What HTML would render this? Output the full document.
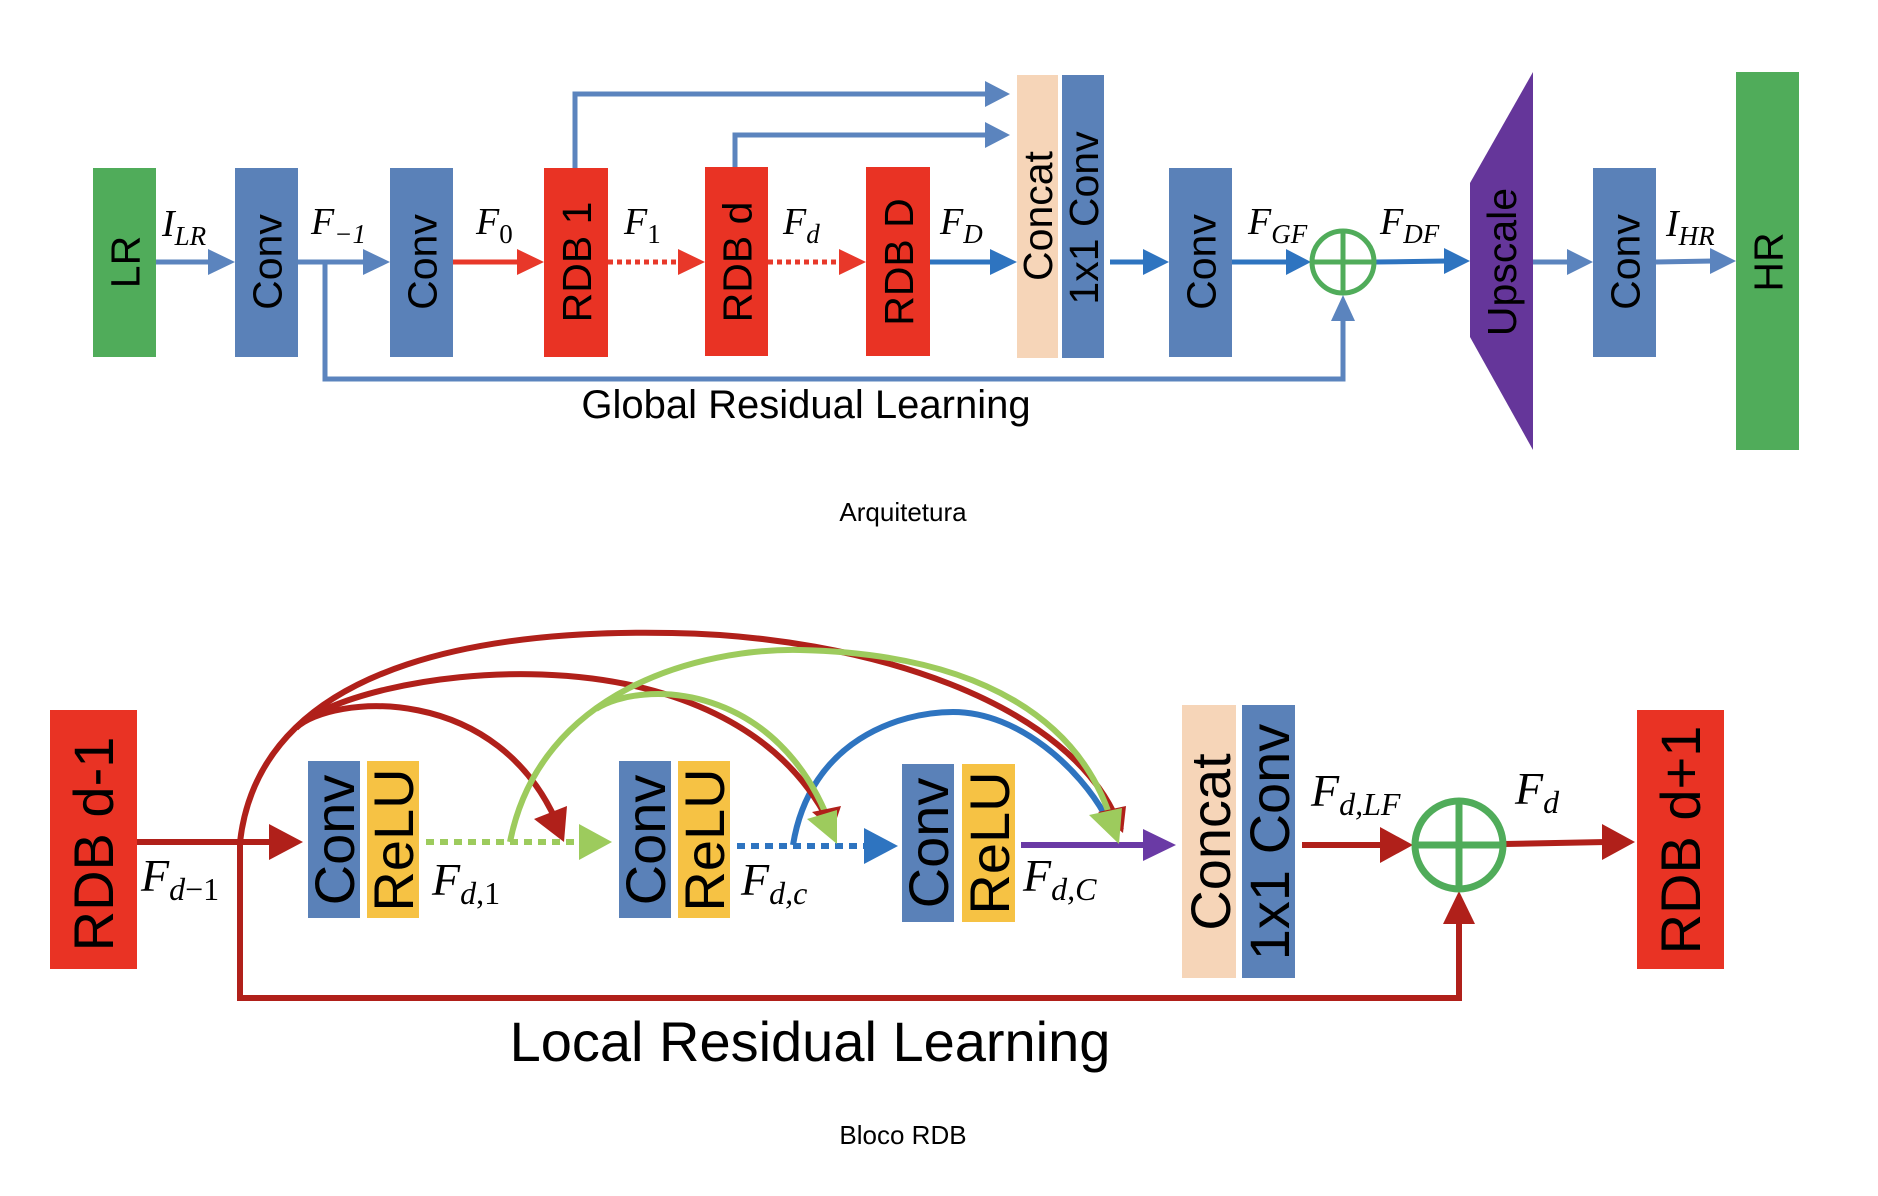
<!DOCTYPE html>
<html><head><meta charset="utf-8"><style>
html,body{margin:0;padding:0;background:#fff;}
svg{display:block;}
.bx{font-family:"Liberation Sans",sans-serif;fill:#000;text-anchor:middle;}
.m{font-family:"Liberation Serif",serif;font-style:italic;fill:#000;}
</style></head><body>
<svg width="1878" height="1196" viewBox="0 0 1878 1196" xmlns="http://www.w3.org/2000/svg">
<!-- ===== TOP ===== -->
<g fill="none" stroke-width="5">
  <line x1="156" y1="262" x2="212" y2="262" stroke="#5B84BE"/>
  <line x1="298" y1="262" x2="367" y2="262" stroke="#5B84BE"/>
  <polyline points="325,262 325,379 1343,379 1343,318" stroke="#5B84BE"/>
  <line x1="453" y1="262" x2="520" y2="262" stroke="#E8382A"/>
  <line x1="608" y1="262" x2="682" y2="262" stroke="#E8382A" stroke-dasharray="5,4"/>
  <line x1="768" y1="262" x2="843" y2="262" stroke="#E8382A" stroke-dasharray="5,4"/>
  <line x1="930" y1="262" x2="994" y2="262" stroke="#2E74C0"/>
  <polyline points="575,168 575,94 988,94" stroke="#5B84BE"/>
  <polyline points="735,168 735,135 988,135" stroke="#5B84BE"/>
  <line x1="1110" y1="262" x2="1146" y2="262" stroke="#2E74C0"/>
  <line x1="1232" y1="262" x2="1290" y2="262" stroke="#2E74C0"/>
  <line x1="1376" y1="262" x2="1447" y2="261" stroke="#2E74C0"/>
  <line x1="1533" y1="262" x2="1570" y2="262" stroke="#5B84BE"/>
  <line x1="1656" y1="262" x2="1713" y2="261" stroke="#5B84BE"/>
</g>
<g>
  <polygon points="235,262 208,249 208,275" fill="#5B84BE"/>
  <polygon points="390,262 363,249 363,275" fill="#5B84BE"/>
  <polygon points="544,262 517,249 517,275" fill="#E8382A"/>
  <polygon points="705,262 678,249 678,275" fill="#E8382A"/>
  <polygon points="866,262 839,249 839,275" fill="#E8382A"/>
  <polygon points="1017,262 990,249 990,275" fill="#2E74C0"/>
  <polygon points="1010,94 985,81 985,107" fill="#5B84BE"/>
  <polygon points="1010,135 985,122 985,148" fill="#5B84BE"/>
  <polygon points="1169,262 1143,249 1143,275" fill="#2E74C0"/>
  <polygon points="1311,262 1286,249 1286,275" fill="#2E74C0"/>
  <polygon points="1470,261 1444,248 1444,274" fill="#2E74C0"/>
  <polygon points="1593,262 1567,249 1567,275" fill="#5B84BE"/>
  <polygon points="1736,261 1710,248 1710,274" fill="#5B84BE"/>
  <polygon points="1343,295 1331,321 1355,321" fill="#5B84BE"/>
</g>
<rect x="93" y="168" width="63" height="189" fill="#50AC5A"/>
<rect x="235" y="168" width="63" height="189" fill="#5A81B8"/>
<rect x="390" y="168" width="63" height="189" fill="#5A81B8"/>
<rect x="544" y="168" width="64" height="189" fill="#E93324"/>
<rect x="705" y="167" width="63" height="189" fill="#E93324"/>
<rect x="866" y="167" width="64" height="189" fill="#E93324"/>
<rect x="1017" y="75" width="41" height="283" fill="#F6D5B8"/>
<rect x="1062" y="75" width="42" height="283" fill="#5A81B8"/>
<rect x="1169" y="168" width="63" height="189" fill="#5A81B8"/>
<polygon points="1470,183 1533,72 1533,450 1470,337" fill="#65369A"/>
<rect x="1593" y="168" width="63" height="189" fill="#5A81B8"/>
<rect x="1736" y="72" width="63" height="378" fill="#50AC5A"/>
<ellipse cx="1343" cy="262" rx="31" ry="31" fill="none" stroke="#50AC5A" stroke-width="5"/>
<line x1="1312" y1="262" x2="1374" y2="262" stroke="#50AC5A" stroke-width="5"/>
<line x1="1343" y1="231" x2="1343" y2="293" stroke="#50AC5A" stroke-width="5"/>
<g class="bx" font-size="41">
  <text transform="translate(139.5,262) rotate(-90)">LR</text>
  <text transform="translate(281.5,262) rotate(-90)">Conv</text>
  <text transform="translate(436.5,262) rotate(-90)">Conv</text>
  <text transform="translate(591,262) rotate(-90)">RDB 1</text>
  <text transform="translate(751.5,262) rotate(-90)">RDB d</text>
  <text transform="translate(913,262) rotate(-90)">RDB D</text>
  <text transform="translate(1052,216) rotate(-90)">Concat</text>
  <text transform="translate(1098,218) rotate(-90)">1x1 Conv</text>
  <text transform="translate(1215.5,262) rotate(-90)">Conv</text>
  <text transform="translate(1516,262) rotate(-90)">Upscale</text>
  <text transform="translate(1639.5,262) rotate(-90)">Conv</text>
  <text transform="translate(1782.5,262) rotate(-90)">HR</text>
</g>
<g class="m" font-size="38">
  <text x="162" y="236">I<tspan font-size="27" dy="9">LR</tspan></text>
  <text x="311" y="234">F<tspan font-size="27" dy="9">−1</tspan></text>
  <text x="476" y="234">F<tspan font-size="27" dy="9" font-style="normal">0</tspan></text>
  <text x="624" y="234">F<tspan font-size="27" dy="9" font-style="normal">1</tspan></text>
  <text x="783" y="234">F<tspan font-size="27" dy="9">d</tspan></text>
  <text x="940" y="234">F<tspan font-size="27" dy="9">D</tspan></text>
  <text x="1248" y="234">F<tspan font-size="27" dy="9">GF</tspan></text>
  <text x="1380" y="234">F<tspan font-size="27" dy="9">DF</tspan></text>
  <text x="1666" y="236">I<tspan font-size="27" dy="9">HR</tspan></text>
</g>
<text x="806" y="418" font-family="Liberation Sans,sans-serif" font-size="40" text-anchor="middle" fill="#000">Global Residual Learning</text>
<text x="903" y="521" font-family="Liberation Sans,sans-serif" font-size="26" text-anchor="middle" fill="#000">Arquitetura</text>

<!-- ===== BOTTOM ===== -->
<g fill="none" stroke-width="6">
  <line x1="137" y1="842" x2="275" y2="842" stroke="#B0201A"/>
  <polyline points="240,842 240,998 1459,998 1459,920" stroke="#B0201A"/>
  <line x1="426" y1="842" x2="582" y2="842" stroke="#9DCB5D" stroke-dasharray="8,6"/>
  <line x1="737" y1="846" x2="868" y2="846" stroke="#2E74C0" stroke-dasharray="8,6"/>
  <line x1="1021" y1="845" x2="1148" y2="845" stroke="#6A3AA5"/>
  <line x1="1302" y1="845" x2="1385" y2="845" stroke="#B0201A"/>
  <line x1="1505" y1="844" x2="1606" y2="842" stroke="#B0201A"/>
  <!-- arcs -->
  <path d="M793 845 C 810 740, 900 712, 953 712 C 1020 712, 1080 770, 1105 815" stroke="#2E74C0"/>
  <path d="M240 842 C 262 650, 520 630, 672 633 C 860 636, 1075 700, 1121 830" stroke="#B0201A"/>
  <path d="M296 728 C 350 672, 720 610, 829 822" stroke="#B0201A"/>
  <path d="M296 728 C 330 695, 500 680, 560 830" stroke="#B0201A"/>
  <path d="M510 842 C 540 690, 700 648, 800 650 C 980 654, 1085 720, 1114 830" stroke="#9DCB5D"/>
  <path d="M596 709 C 640 680, 780 680, 833 832" stroke="#9DCB5D"/>
</g>
<g>
  <polygon points="303,842 269,824 269,860" fill="#B0201A"/>
  <polygon points="612,842 579,824 579,860" fill="#9DCB5D"/>
  <polygon points="898,846 864,828 864,864" fill="#2E74C0"/>
  <polygon points="1176,845 1143,829 1143,861" fill="#6A3AA5"/>
  <polygon points="1413,845 1380,827 1380,863" fill="#B0201A"/>
  <polygon points="1635,842 1602,824 1602,860" fill="#B0201A"/>
  <polygon points="1459,891 1443,924 1475,924" fill="#B0201A"/>
  <polygon points="564,842 534,819 567,806" fill="#B0201A"/>
  <polygon points="833,830 812,812 841,806" fill="#B0201A"/>
  <polygon points="837,844 807,819 837,810" fill="#9DCB5D"/>
  <polygon points="1123,833 1098,812 1126,806" fill="#B0201A"/>
  <polygon points="1119,844 1089,815 1122,808" fill="#9DCB5D"/>
</g>
<rect x="50" y="710" width="87" height="259" fill="#E93324"/>
<rect x="308" y="761" width="52" height="157" fill="#5A81B8"/>
<rect x="367" y="761" width="52" height="157" fill="#F6C244"/>
<rect x="619" y="761" width="52" height="157" fill="#5A81B8"/>
<rect x="678" y="761" width="52" height="157" fill="#F6C244"/>
<rect x="902" y="764" width="52" height="158" fill="#5A81B8"/>
<rect x="962" y="764" width="53" height="158" fill="#F6C244"/>
<rect x="1182" y="705" width="54" height="273" fill="#F6D5B8"/>
<rect x="1242" y="705" width="53" height="273" fill="#5A81B8"/>
<rect x="1637" y="710" width="87" height="259" fill="#E93324"/>
<circle cx="1459" cy="845" r="44" fill="none" stroke="#50AC5A" stroke-width="7"/>
<line x1="1415" y1="845" x2="1503" y2="845" stroke="#50AC5A" stroke-width="7"/>
<line x1="1459" y1="801" x2="1459" y2="889" stroke="#50AC5A" stroke-width="7"/>
<g class="bx" font-size="56">
  <text transform="translate(113,844) rotate(-90)">RDB d-1</text>
  <text transform="translate(354,840) rotate(-90)">Conv</text>
  <text transform="translate(413,840) rotate(-90)">ReLU</text>
  <text transform="translate(665,840) rotate(-90)">Conv</text>
  <text transform="translate(724,840) rotate(-90)">ReLU</text>
  <text transform="translate(948,843) rotate(-90)">Conv</text>
  <text transform="translate(1009,843) rotate(-90)">ReLU</text>
  <text transform="translate(1230,842) rotate(-90)">Concat</text>
  <text transform="translate(1289,842) rotate(-90)">1x1 Conv</text>
  <text transform="translate(1700,840) rotate(-90)">RDB d+1</text>
</g>
<g class="m" font-size="46">
  <text x="141" y="891">F<tspan font-size="32" dy="9">d</tspan><tspan font-size="32" font-style="normal">−1</tspan></text>
  <text x="432" y="895">F<tspan font-size="32" dy="9">d</tspan><tspan font-size="32" font-style="normal">,1</tspan></text>
  <text x="741" y="895">F<tspan font-size="32" dy="9">d,c</tspan></text>
  <text x="1023" y="891">F<tspan font-size="32" dy="9">d,C</tspan></text>
  <text x="1311" y="806">F<tspan font-size="32" dy="9">d,LF</tspan></text>
  <text x="1515" y="804">F<tspan font-size="32" dy="9">d</tspan></text>
</g>
<text x="810" y="1061" font-family="Liberation Sans,sans-serif" font-size="56" text-anchor="middle" fill="#000">Local Residual Learning</text>
<text x="903" y="1144" font-family="Liberation Sans,sans-serif" font-size="26" text-anchor="middle" fill="#000">Bloco RDB</text>
</svg>
</body></html>
